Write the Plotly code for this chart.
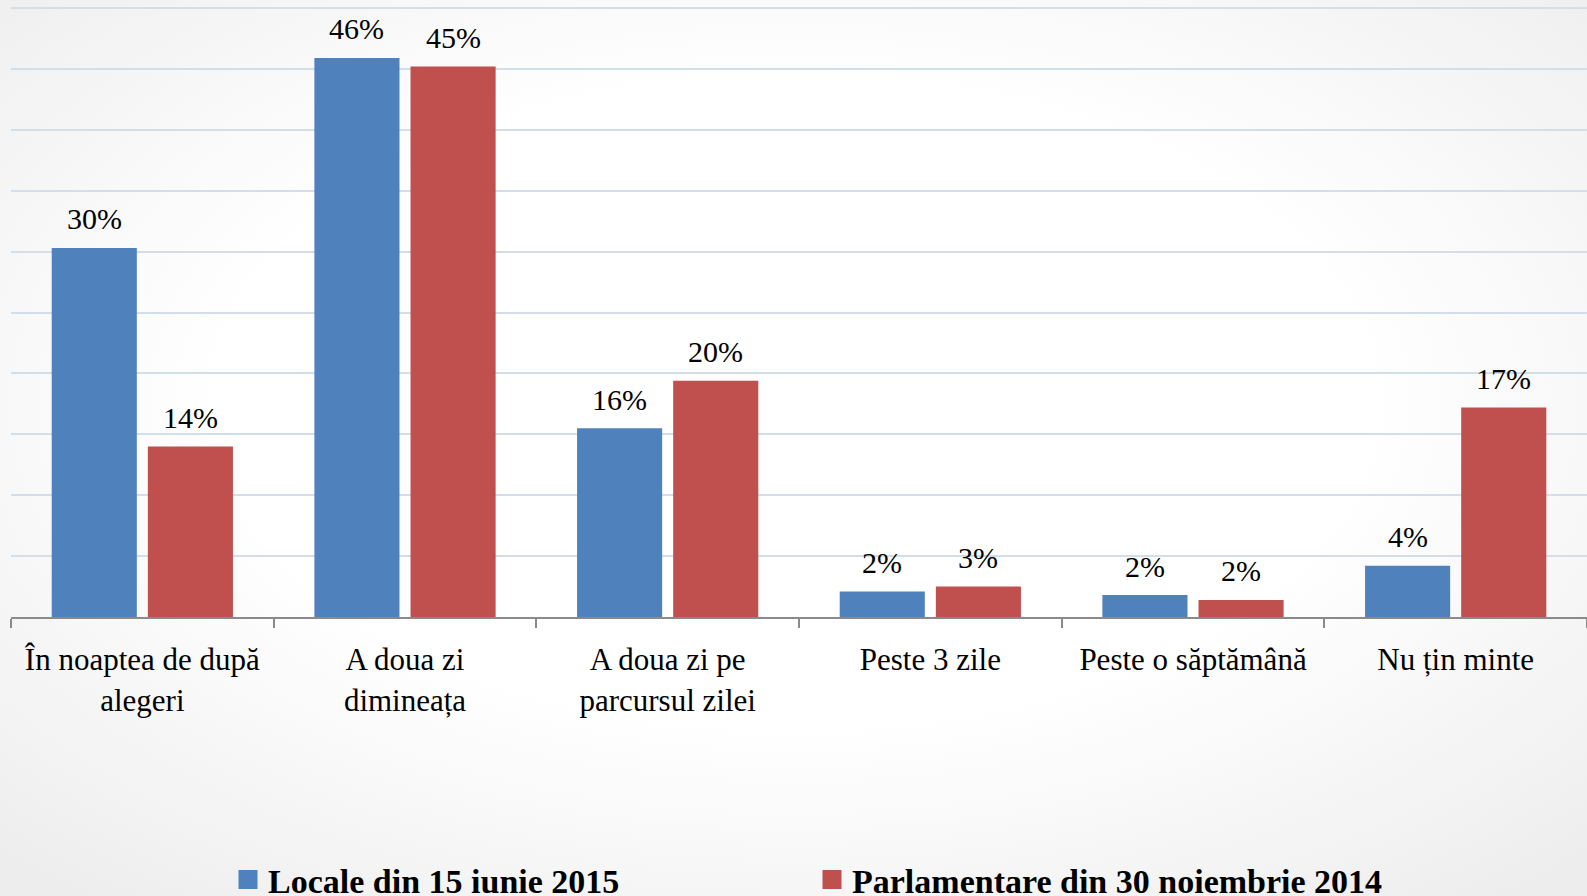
import base64
import plotly.graph_objects as go

categories = [
    "În noaptea de după<br>alegeri",
    "A doua zi<br>dimineața",
    "A doua zi pe<br>parcursul zilei",
    "Peste 3 zile",
    "Peste o săptămână",
    "Nu țin minte",
]
series_names = ["Locale din 15 iunie 2015", "Parlamentare din 30 noiembrie 2014"]
locale_values = [30.3, 45.9, 15.5, 2.1, 1.8, 4.2]
parlamentare_values = [14.0, 45.2, 19.4, 2.5, 1.4, 17.2]
locale_labels = ["30%", "46%", "16%", "2%", "2%", "4%"]
parlamentare_labels = ["14%", "45%", "20%", "3%", "2%", "17%"]

BLUE = "#4F81BD"
RED = "#C0504D"
FONT = "Liberation Serif"

W, H = 1587, 896
BASE_Y = 617          # pixel row of the x axis
TOP_GRID_Y = 8        # pixel row of the 50% gridline
ML, MR, MT = 11, 0, 4
MB = H - BASE_Y
PW, PH = W - ML - MR, H - MT - MB
Y_TOP = 50 * (BASE_Y - MT) / (BASE_Y - TOP_GRID_Y)
BAR_W = 0.324
OFFSETS = [-0.345, 0.021]

svg = (
    f'<svg xmlns="http://www.w3.org/2000/svg" width="{W}" height="{H}">'
    '<defs><radialGradient id="g" cx="50%" cy="45%" r="72%">'
    '<stop offset="0.5" stop-color="#ffffff"/>'
    '<stop offset="1" stop-color="#ededed"/>'
    '</radialGradient></defs>'
    '<rect width="100%" height="100%" fill="url(#g)"/></svg>'
)
bg_uri = "data:image/svg+xml;base64," + base64.b64encode(svg.encode()).decode()

fig = go.Figure()
annotations = []
series = [
    (locale_values, locale_labels, BLUE, OFFSETS[0]),
    (parlamentare_values, parlamentare_labels, RED, OFFSETS[1]),
]
for vals, labels, color, off in series:
    fig.add_trace(go.Bar(
        x=categories, y=vals,
        marker=dict(color=color, line=dict(width=0)),
        width=BAR_W, offset=off,
        showlegend=False, hoverinfo="skip",
    ))
    for i, (v, lab) in enumerate(zip(vals, labels)):
        annotations.append(dict(
            x=i + off + BAR_W / 2, y=v, xref="x", yref="y",
            text=lab, showarrow=False, yanchor="middle", yshift=29,
            font=dict(family=FONT, size=30, color="black"),
        ))

for name, color in zip(series_names, [BLUE, RED]):
    fig.add_trace(go.Scatter(
        x=[None], y=[None], mode="markers", name=name,
        marker=dict(symbol="square", size=16, color=color,
                    line=dict(color=color, width=3)),
        showlegend=True, hoverinfo="skip",
    ))

fig.update_layout(
    width=W, height=H,
    margin=dict(l=ML, r=MR, t=MT, b=MB, autoexpand=False),
    paper_bgcolor="white",
    plot_bgcolor="rgba(0,0,0,0)",
    barmode="group",
    annotations=annotations,
    images=[dict(
        source=bg_uri, xref="paper", yref="paper",
        x=-ML / PW, y=1 + MT / PH, sizex=W / PW, sizey=H / PH,
        xanchor="left", yanchor="top", sizing="stretch", layer="below",
    )],
    xaxis=dict(
        type="category", range=[-0.5, 5.5],
        showline=True, linecolor="#8a8a8a", linewidth=2,
        ticks="outside", tickson="boundaries", ticklen=9, tickwidth=2, tickcolor="#8a8a8a",
        tickangle=0, showgrid=False, ticklabelstandoff=14,
        tickfont=dict(family=FONT, size=31, color="black"),
    ),
    yaxis=dict(
        range=[0, Y_TOP], tick0=0, dtick=5, showticklabels=False,
        showgrid=True, gridcolor="#D3DEEB", gridwidth=2,
        zeroline=False, showline=False,
    ),
    showlegend=True,
    legend=dict(
        orientation="h", x=(228 - ML) / PW, xanchor="left",
        y=(BASE_Y - 880) / PH, yanchor="middle",
        font=dict(family=FONT, size=34, color="black", weight="bold"),
        bgcolor="rgba(0,0,0,0)", entrywidth=539, entrywidthmode="pixels",
    ),
)

fig.write_html(
    "out.html",
    config={"displayModeBar": False},
    post_script="document.body.style.margin='0';document.body.style.padding='0';",
)
